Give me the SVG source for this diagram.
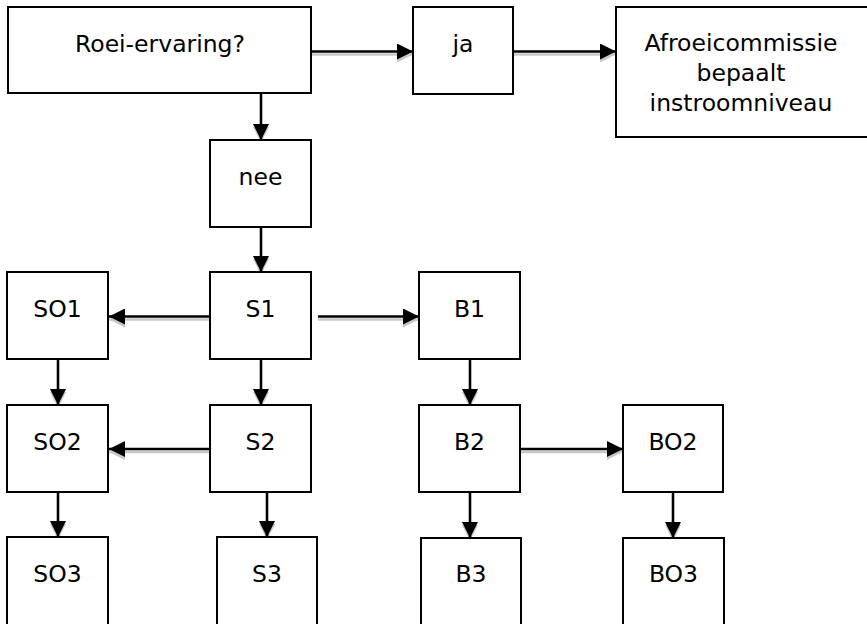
<svg xmlns="http://www.w3.org/2000/svg" width="867" height="624" viewBox="0 0 867 624">
<style>
.box{fill:#fff;stroke:#000;stroke-width:2}
.t{font-family:"DejaVu Sans","Verdana",sans-serif;font-size:23.5px;fill:#000;text-anchor:middle}
.c{fill:none;stroke:#000;stroke-width:2.5;marker-end:url(#ah)}
.s{fill:none;stroke:#c8c8c8;stroke-width:2.5;marker-end:url(#ahs)}
</style>
<defs>
<marker id="ah" markerUnits="userSpaceOnUse" markerWidth="17" markerHeight="16" refX="16" refY="8" orient="auto"><path d="M0,0 L16,8 L0,16 z" fill="#000"/></marker>
<marker id="ahs" markerUnits="userSpaceOnUse" markerWidth="17" markerHeight="16" refX="16" refY="8" orient="auto"><path d="M0,0 L16,8 L0,16 z" fill="#c8c8c8"/></marker>
</defs>
<rect width="867" height="624" fill="#fff"/>
<g id="connectors">
<g transform="translate(0,3)">
<path class="s" d="M312,51.5 H413"/>
<path class="s" d="M514,51.5 H616"/>
<path class="s" d="M261,93 V140"/>
<path class="s" d="M261,227 V272"/>
<path class="s" d="M210,316.5 H109"/>
<path class="s" d="M318,316.5 H419"/>
<path class="s" d="M58,359 V405"/>
<path class="s" d="M261,359 V405"/>
<path class="s" d="M470,359 V405"/>
<path class="s" d="M210,449 H109"/>
<path class="s" d="M520,449 H623"/>
<path class="s" d="M58,492 V537"/>
<path class="s" d="M267,492 V537"/>
<path class="s" d="M470,492 V538"/>
<path class="s" d="M673,492 V538"/>
</g>
<path class="c" d="M312,51.5 H413"/>
<path class="c" d="M514,51.5 H616"/>
<path class="c" d="M261,93 V140"/>
<path class="c" d="M261,227 V272"/>
<path class="c" d="M210,316.5 H109"/>
<path class="c" d="M318,316.5 H419"/>
<path class="c" d="M58,359 V405"/>
<path class="c" d="M261,359 V405"/>
<path class="c" d="M470,359 V405"/>
<path class="c" d="M210,449 H109"/>
<path class="c" d="M520,449 H623"/>
<path class="c" d="M58,492 V537"/>
<path class="c" d="M267,492 V537"/>
<path class="c" d="M470,492 V538"/>
<path class="c" d="M673,492 V538"/>
</g>
<g id="roei"><rect class="box" x="8" y="7" width="303" height="86"/><text class="t" x="160" y="52">Roei-ervaring?</text></g>
<g id="ja"><rect class="box" x="413" y="7" width="100" height="87"/><text class="t" x="463" y="52">ja</text></g>
<g id="afroei"><rect class="box" x="616" y="7" width="252" height="130"/><text class="t" x="741" y="51">Afroeicommissie</text><text class="t" x="741" y="81">bepaalt</text><text class="t" x="741" y="111">instroomniveau</text></g>
<g id="nee"><rect class="box" x="210" y="140" width="101" height="87"/><text class="t" x="260.5" y="185">nee</text></g>
<g id="SO1"><rect class="box" x="7" y="272" width="101" height="87"/><text class="t" x="57.5" y="317">SO1</text></g>
<g id="S1"><rect class="box" x="210" y="272" width="101" height="87"/><text class="t" x="260.5" y="317">S1</text></g>
<g id="B1"><rect class="box" x="419" y="272" width="101" height="87"/><text class="t" x="469.5" y="317">B1</text></g>
<g id="SO2"><rect class="box" x="7" y="405" width="101" height="87"/><text class="t" x="57.5" y="450">SO2</text></g>
<g id="S2"><rect class="box" x="210" y="405" width="101" height="87"/><text class="t" x="260.5" y="450">S2</text></g>
<g id="B2"><rect class="box" x="419" y="405" width="101" height="87"/><text class="t" x="469.5" y="450">B2</text></g>
<g id="BO2"><rect class="box" x="623" y="405" width="100" height="87"/><text class="t" x="673" y="450">BO2</text></g>
<g id="SO3"><rect class="box" x="7" y="537" width="101" height="90"/><text class="t" x="57.5" y="582">SO3</text></g>
<g id="S3"><rect class="box" x="217" y="537" width="100" height="90"/><text class="t" x="267" y="582">S3</text></g>
<g id="B3"><rect class="box" x="421" y="538" width="100" height="90"/><text class="t" x="471" y="582">B3</text></g>
<g id="BO3"><rect class="box" x="623" y="538" width="101" height="90"/><text class="t" x="673.5" y="582">BO3</text></g>
</svg>
